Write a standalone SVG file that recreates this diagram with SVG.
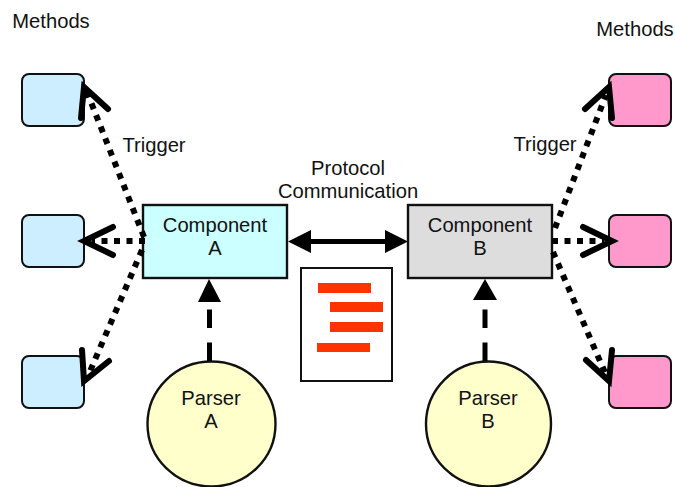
<svg xmlns="http://www.w3.org/2000/svg" width="675" height="487" viewBox="0 0 675 487">
<style>
text{font-family:"Liberation Sans",Arial,sans-serif;font-size:20.2px;fill:#111;text-anchor:middle}
.b{stroke:#111;stroke-width:2.4}
.m{stroke:#111;stroke-width:2;}
.l{fill:#cceeff}.r{fill:#ff99cc}
.o{fill:#ffffcc;stroke:#111;stroke-width:2.4}
.bar{fill:#ff3300}
.dot{fill:none;stroke:#000;stroke-width:6;stroke-dasharray:6 6.5}
.head{fill:none;stroke:#000;stroke-width:6;stroke-linecap:round;stroke-linejoin:miter}
.dash{fill:none;stroke:#000;stroke-width:5;stroke-dasharray:18.500 14.500}
</style>
<rect width="675" height="487" fill="#fff"/>
<g id="m-l1"><rect class="m l" x="22" y="74" width="62" height="52" rx="7"/></g>
<g id="m-l2"><rect class="m l" x="22" y="215" width="62" height="52" rx="7"/></g>
<g id="m-l3"><rect class="m l" x="22" y="356" width="62" height="52" rx="7"/></g>
<g id="m-r1"><rect class="m r" x="609" y="74" width="62" height="52" rx="7"/></g>
<g id="m-r2"><rect class="m r" x="609" y="215" width="62" height="52" rx="7"/></g>
<g id="m-r3"><rect class="m r" x="609" y="356" width="62" height="52" rx="7"/></g>
<g id="comp-a"><rect class="b" x="143" y="205" width="144" height="73" fill="#ccffff"/><text x="215" y="232">Component</text><text x="215" y="255">A</text></g>
<g id="comp-b"><rect class="b" x="408" y="205" width="144" height="73" fill="#dddddd"/><text x="480" y="232">Component</text><text x="480" y="255">B</text></g>
<g id="parser-a"><ellipse class="o" cx="211.500" cy="424" rx="64" ry="62.500"/><text x="211" y="405">Parser</text><text x="211" y="428">A</text></g>
<g id="parser-b"><ellipse class="o" cx="488.500" cy="424" rx="62.500" ry="62.500"/><text x="488" y="405">Parser</text><text x="488" y="428">B</text></g>
<g id="document"><rect x="301" y="268" width="91" height="113" fill="#fff" stroke="#111" stroke-width="2"/>
<rect class="bar" x="318" y="283" width="53" height="10"/><rect class="bar" x="330" y="302" width="53" height="10"/><rect class="bar" x="330" y="322" width="53" height="10"/><rect class="bar" x="317" y="343" width="53" height="9"/></g>
<g id="connectors">
<path class="dot" d="M144 237L87 92"/><path class="head" d="M81 118L84 87L108 109"/>
<path class="dot" d="M145 241H92"/><path class="head" d="M113 227L84 241L113 255"/>
<path class="dot" d="M142 250L88 376"/><path class="head" d="M82 350L84 381L109 361"/>
<path class="dot" d="M555 228L606 95"/><path class="head" d="M585 109L609 87L612 118"/>
<path class="dot" d="M552 241H604"/><path class="head" d="M583 227L612 241L583 255"/>
<path class="dot" d="M553 252L606 375"/><path class="head" d="M586 360L609 381L612 350"/>
<path d="M310 241.500H385" stroke="#000" stroke-width="5" fill="none"/>
<path d="M288 241.500L311 230V253Z M408 241.500L385 230V253Z" fill="#000"/>
<path class="dash" d="M209.500 361V309"/><path d="M209 279L198 302H221Z" fill="#000"/>
<path class="dash" d="M485 361V308"/><path d="M485 279L473 300H497Z" fill="#000"/>
</g>
<text x="51" y="28">Methods</text><text x="635" y="36">Methods</text>
<text x="154" y="152">Trigger</text><text x="545" y="151">Trigger</text>
<text x="348" y="175">Protocol</text><text x="348" y="198">Communication</text>
</svg>
